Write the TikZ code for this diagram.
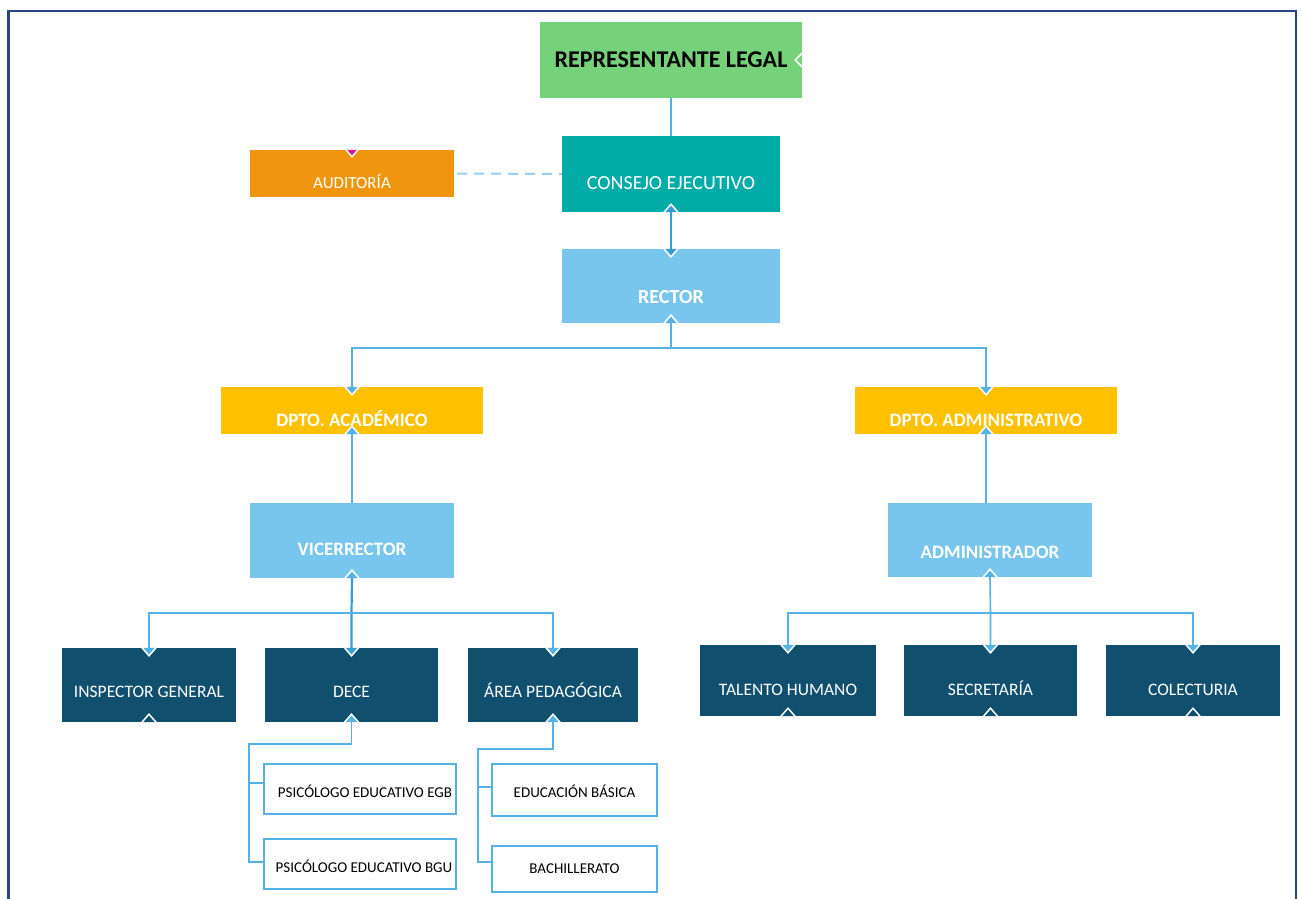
\documentclass[tikz,border=0pt]{standalone}
\usepackage{fontspec}
\setmainfont{Carlito}
\definecolor{cgreen}{RGB}{118,210,122}
\definecolor{cteal}{RGB}{0,171,168}
\definecolor{corange}{RGB}{240,150,14}
\definecolor{clight}{RGB}{120,198,238}
\definecolor{cyellow}{RGB}{255,192,0}
\definecolor{cnavy}{RGB}{17,79,110}
\definecolor{cline}{RGB}{85,178,230}
\definecolor{cline2}{RGB}{55,155,215}
\definecolor{cdash}{RGB}{150,208,242}
\definecolor{cframe}{RGB}{40,70,125}
\definecolor{cpink}{RGB}{220,20,140}
\newcommand{\chvdn}[2]{\filldraw[chev, fill=#2] ([xshift=-7pt]#1.north) -- ([yshift=-8pt]#1.north) -- ([xshift=7pt]#1.north);}
\newcommand{\chvup}[2]{\filldraw[chev, fill=#2] ([xshift=-7pt]#1.south) -- ([yshift=8pt]#1.south) -- ([xshift=7pt]#1.south);}
\begin{document}
\begin{tikzpicture}[x=1pt,y=-1pt,
  box/.style={rectangle, inner sep=0pt, anchor=center, text=white, text depth=0pt, font=\fontsize{17}{20}\selectfont},
  th/.style={text height=#1},
  top/.style={box, fill=#1, font=\fontsize{20}{24}\selectfont},
  dept/.style={box, fill=cyellow, minimum height=47, font=\bfseries\fontsize{19}{22}\selectfont},
  unit/.style={box, fill=cnavy, font=\fontsize{17.5}{20}\selectfont},
  sub/.style={box, fill=white, draw=cline, line width=1.6pt, text=black, font=\fontsize{15}{18}\selectfont},
  conn/.style={draw=cline, line width=1.6pt},
  conn2/.style={draw=cline2, line width=2.2pt},
  dashconn/.style={draw=cdash, line width=2pt, dash pattern=on 10pt off 7pt},
  chev/.style={draw=white, line width=1.5pt, line join=miter},
  frame/.style={draw=cframe, line width=2.5pt}]
\useasboundingbox (0,0) rectangle (1302,899);
\fill[white] (0,0) rectangle (1302,899);
\draw[frame] (8.5,899) -- (8.5,11) -- (1296,11) -- (1296,899);

% nodes
\node[top=cgreen, text=black, font=\bfseries\fontsize{24}{28}\selectfont, th=15.5pt, minimum width=262, minimum height=76] (rep) at (671,60) {REPRESENTANTE LEGAL};
\node[top=cteal, th=31pt, minimum width=218, minimum height=76] (cons) at (671,174) {CONSEJO EJECUTIVO};
\node[box, fill=corange, th=29pt, minimum width=204, minimum height=47] (aud) at (352,173.5) {AUDITORÍA};
\node[top=clight, th=35pt, minimum width=218, minimum height=74, font=\bfseries\fontsize{20}{24}\selectfont] (rect) at (671,286) {RECTOR};
\node[dept, th=32pt, minimum width=262] (acad) at (352,410.5) {DPTO. ACADÉMICO};
\node[dept, th=31pt, minimum width=262] (adm) at (986,410.5) {DPTO. ADMINISTRATIVO};
\node[top=clight, th=30pt, minimum width=204, minimum height=75, font=\bfseries\fontsize{19}{22}\selectfont] (vice) at (352,540.5) {VICERRECTOR};
\node[top=clight, th=36pt, minimum width=204, minimum height=74, font=\bfseries\fontsize{19}{22}\selectfont] (admr) at (990,540) {ADMINISTRADOR};
\node[unit, th=25pt, minimum width=174, minimum height=74] (insp) at (149,685) {INSPECTOR GENERAL};
\node[unit, th=25pt, minimum width=173, minimum height=74] (dece) at (351.5,685) {DECE};
\node[unit, th=25pt, minimum width=170, minimum height=74] (area) at (553,685) {ÁREA PEDAGÓGICA};
\node[unit, th=30pt, minimum width=176, minimum height=71] (tal) at (788,680.5) {TALENTO HUMANO};
\node[unit, th=30pt, minimum width=173, minimum height=71] (sec) at (990.5,680.5) {SECRETARÍA};
\node[unit, th=30pt, minimum width=174, minimum height=71] (col) at (1193,680.5) {COLECTURIA};
\node[sub, th=17.7pt, minimum width=192, minimum height=50] (psi1) at (360,789) {\hspace*{10pt}PSICÓLOGO EDUCATIVO EGB};
\node[sub, th=17.7pt, minimum width=192, minimum height=50] (psi2) at (360,864) {\hspace*{8pt}PSICÓLOGO EDUCATIVO BGU};
\node[sub, th=15.7pt, minimum width=165, minimum height=52] (edu) at (574.5,790) {EDUCACIÓN BÁSICA};
\node[sub, th=9.7pt, minimum width=165, minimum height=46] (bach) at (574.5,869) {BACHILLERATO};

% connectors
\coordinate (b1) at (671,348);
\coordinate (b2) at (351.5,613);
\coordinate (b3) at (990.5,613);
\coordinate (d1) at (351.5,744);
\coordinate (d2) at (249,744);
\coordinate (a1) at (553,749);
\coordinate (a2) at (478,749);
\coordinate (p1) at ([yshift=6pt]psi1.west);
\coordinate (p2) at ([yshift=2pt]psi2.west);
\coordinate (e1) at ([yshift=3pt]edu.west);
\coordinate (e2) at ([yshift=7pt]bach.west);
\draw[conn] (rep.south) -- (cons.north);
\draw[dashconn] ([xshift=3pt]aud.east) -- (cons.west);
\draw[conn2] (cons.south) -- (rect.north);
\draw[conn] (rect.south) -- (b1) -| (acad.north);
\draw[conn] (b1) -| (adm.north);
\draw[conn] (vice.north) -- (acad.south);
\draw[conn] (adm.south) -- (adm.south |- admr.north);
\draw[conn2] (vice.south) -- (b2) -- (dece.north);
\draw[conn] (b2) -| (insp.north);
\draw[conn] (b2) -| (area.north);
\draw[conn] (admr.south) -- (b3) -- (sec.north);
\draw[conn] (b3) -| (tal.north);
\draw[conn] (b3) -| (col.north);
\draw[conn] (dece.south) -- (d1) -- (d2) |- (p2);
\draw[conn] (d2 |- p1) -- (p1);
\draw[conn] (area.south) -- (a1) -- (a2) |- (e2);
\draw[conn] (a2 |- e1) -- (e1);

% connection markers
\draw[chev] ([yshift=7pt]rep.east) -- ([xshift=-7pt]rep.east) -- ([yshift=-7pt]rep.east);
\filldraw[chev, fill=cpink] ([xshift=-6pt]aud.north) -- ([yshift=-7pt]aud.north) -- ([xshift=6pt]aud.north);
\chvup{cons}{cline2}
\chvdn{rect}{cline2}
\chvup{rect}{cline}
\chvdn{acad}{cline}
\chvup{acad}{cline}
\chvdn{adm}{cline}
\chvup{adm}{cline}
\chvup{vice}{cline}
\chvup{admr}{cline}
\chvdn{insp}{cline}
\chvdn{dece}{cline2}
\chvdn{area}{cline}
\chvup{insp}{cnavy}
\chvup{dece}{cline}
\chvup{area}{cline}
\chvdn{tal}{cline}
\chvdn{sec}{cline}
\chvdn{col}{cline}
\chvup{tal}{cnavy}
\chvup{sec}{cnavy}
\chvup{col}{cnavy}
\end{tikzpicture}
\end{document}
